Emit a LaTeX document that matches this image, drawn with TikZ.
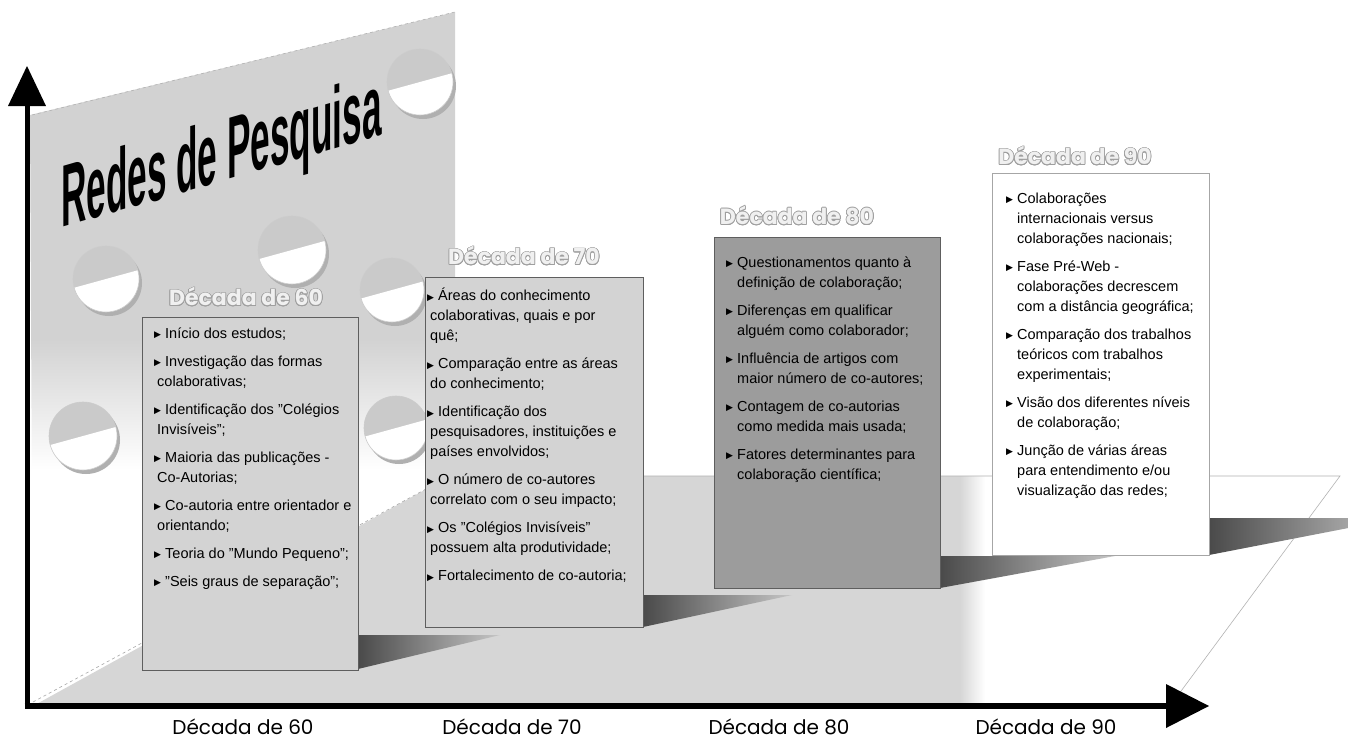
\documentclass[tikz,border=0pt]{standalone}
\usepackage{fontspec}
\setmainfont{Liberation Sans}
\newfontfamily\symf{DejaVu Sans}
\newfontfamily\labf{Poppins}
\usepackage{contour}
\contourlength{0.7pt}
\definecolor{wallgrey}{HTML}{D2D2D2}
\definecolor{floorgrey}{HTML}{D6D6D6}
\definecolor{boxgrey}{HTML}{D3D3D3}
\definecolor{boxdark}{HTML}{9C9C9C}
\definecolor{edgegrey}{HTML}{5E5E5E}
\definecolor{shadowdark}{HTML}{4A4A4A}
\definecolor{holegrey}{HTML}{CACACA}
\newcommand\bl{\makebox[11pt][l]{\raisebox{0.3pt}{\symf\fontsize{9}{9}\selectfont ▶}}}
\newcommand\ia{\hspace*{3pt}}
\newcommand\ib{\hspace*{11pt}}
\newcommand\fs{\rule{0pt}{12pt}}
\newcommand\hole[3]{%
  \fill[gray!62] (#1+3,#2+4) circle (#3pt);
  \begin{scope}
    \clip (#1,#2) circle (#3pt);
    \fill[holegrey] (#1,#2) circle (#3pt);
    \fill[white] (#1-40,#2+11) -- (#1+40,#2-11) -- (#1+40,#2+40) -- (#1-40,#2+40) -- cycle;
  \end{scope}
  \draw[gray!40, line width=0.6pt] (#1,#2) circle (#3pt);
}
\tikzset{
  panel/.style={draw=edgegrey, line width=0.9pt, anchor=north west, inner sep=0pt},
  itemtext/.style={anchor=north west, inner sep=0pt, align=left, font=\fontsize{14.5}{20}\selectfont},
  decade/.style={font=\labf\bfseries\fontsize{22}{22}\selectfont},
  axislabel/.style={font=\labf\fontsize{20}{20}\selectfont},
  castshadow/.style={left color=shadowdark, right color=gray!45},
  bigtitle/.style={transform shape, anchor=base west, inner sep=0pt, font=\fontsize{88}{88}\selectfont\bfseries}
}
\begin{document}
\begin{tikzpicture}[x=1pt,y=-1pt]
\useasboundingbox (0,0) rectangle (1348,744);
\fill[white] (0,0) rectangle (1348,744);

% back wall
\begin{scope}
  \clip (30,115) -- (455,12) -- (455,476) -- (33,702) -- cycle;
  \fill[wallgrey] (0,0) rectangle (460,340);
  \shade[top color=wallgrey, bottom color=white] (0,339) rectangle (460,470);
  \fill[white] (0,469) rectangle (460,710);
\end{scope}
\draw[gray!60, dashed, line width=0.6pt] (32,115) -- (455,12);

% floor
\begin{scope}
  \clip (33,706) -- (450,476) -- (1340,476) -- (1170,706) -- cycle;
  \fill[floorgrey] (0,470) rectangle (962,710);
  \shade[left color=floorgrey, right color=white] (960,470) rectangle (985,710);
\end{scope}
\draw[gray!70, dashed, line width=0.6pt] (33,702) -- (450,476);
\draw[gray!60, line width=0.6pt] (450,476) -- (1340,476) -- (1170,706);

% holes in the wall
\hole{106}{279}{33}
\hole{292}{250}{34}
\hole{420}{82}{33}
\hole{392}{290}{32}
\hole{83}{436}{34}
\hole{396}{428}{32}

% title
\begin{scope}[shift={(61,228)}, yslant=0.29, xscale=0.40]
  \node[bigtitle] (title) at (0,0) {Redes de Pesquisa};
\end{scope}

% cast shadows
\shade[castshadow] (358,635) -- (500,635) -- (358,669) -- cycle;
\shade[castshadow] (643,595) -- (792,595) -- (643,627) -- cycle;
\shade[castshadow] (940,556) -- (1115,556) -- (940,588) -- cycle;
\shade[castshadow] (1209,518) -- (1400,518) -- (1209,555) -- cycle;

% panels
\node[panel, fill=boxgrey, minimum width=216pt, minimum height=353pt] (b60) at (142,317) {};
\node[panel, fill=boxgrey, minimum width=218pt, minimum height=350pt] (b70) at (425,277) {};
\node[panel, fill=boxdark, minimum width=226pt, minimum height=351pt] (b80) at (714,237) {};
\node[panel, fill=white, draw=gray!70, minimum width=217pt, minimum height=382pt] (b90) at (992,173) {};

% panel texts
\node[itemtext] (t60) at (154,326) {\fs\bl Início dos estudos;\\[8pt]
\bl Investigação das formas\\ \ia colaborativas;\\[8pt]
\bl Identificação dos "Colégios\\ \ia Invisíveis";\\[8pt]
\bl Maioria das publicações -\\ \ia Co-Autorias;\\[8pt]
\bl Co-autoria entre orientador e\\ \ia orientando;\\[8pt]
\bl Teoria do "Mundo Pequeno";\\[8pt]
\bl "Seis graus de separação";};

\node[itemtext] (t70) at (427,288) {\fs\bl Áreas do conhecimento\\ \ia colaborativas, quais e por\\ \ia quê;\\[8pt]
\bl Comparação entre as áreas\\ \ia do conhecimento;\\[8pt]
\bl Identificação dos\\ \ia pesquisadores, instituições e\\ \ia países envolvidos;\\[8pt]
\bl O número de co-autores\\ \ia correlato com o seu impacto;\\[8pt]
\bl Os "Colégios Invisíveis"\\ \ia possuem alta produtividade;\\[8pt]
\bl Fortalecimento de co-autoria;};

\node[itemtext] (t80) at (726,255) {\fs\bl Questionamentos quanto à\\ \ib definição de colaboração;\\[8pt]
\bl Diferenças em qualificar\\ \ib alguém como colaborador;\\[8pt]
\bl Influência de artigos com\\ \ib maior número de co-autores;\\[8pt]
\bl Contagem de co-autorias\\ \ib como medida mais usada;\\[8pt]
\bl Fatores determinantes para\\ \ib colaboração científica;};

\node[itemtext] (t90) at (1006,191) {\fs\bl Colaborações\\ \ib internacionais versus\\ \ib colaborações nacionais;\\[8pt]
\bl Fase Pré-Web -\\ \ib colaborações decrescem\\ \ib com a distância geográfica;\\[8pt]
\bl Comparação dos trabalhos\\ \ib teóricos com trabalhos\\ \ib experimentais;\\[8pt]
\bl Visão dos diferentes níveis\\ \ib de colaboração;\\[8pt]
\bl Junção de várias áreas\\ \ib para entendimento e/ou\\ \ib visualização das redes;};

% decade titles
\node[decade] (h60) at (246,297) {\contour{gray!75}{\textcolor{gray!12}{Década de 60}}};
\node[decade] (h70) at (524,256) {\contour{gray!75}{\textcolor{gray!12}{Década de 70}}};
\node[decade] (h80) at (797,216) {\contour{gray!75}{\textcolor{gray!12}{Década de 80}}};
\node[decade] (h90) at (1075,156) {\contour{gray!75}{\textcolor{gray!12}{Década de 90}}};

% axes
\coordinate (origin) at (27,706);
\coordinate (ytop) at (27,104);
\coordinate (ytip) at (27,66);
\coordinate (xend) at (1170,706);
\coordinate (xtip) at (1209,706);
\draw[line width=5pt] (27,708) -- (ytop);
\fill (ytip) -- (8,106) -- (46,106) -- cycle;
\draw[line width=5.5pt] (24.5,706) -- (xend);
\fill (xtip) -- (1166,684) -- (1166,728) -- cycle;

% axis labels
\node[axislabel] (l60) at (243,727) {Década de 60};
\node[axislabel] (l70) at (512,727) {Década de 70};
\node[axislabel] (l80) at (779,727) {Década de 80};
\node[axislabel] (l90) at (1046,727) {Década de 90};
\end{tikzpicture}
\end{document}
